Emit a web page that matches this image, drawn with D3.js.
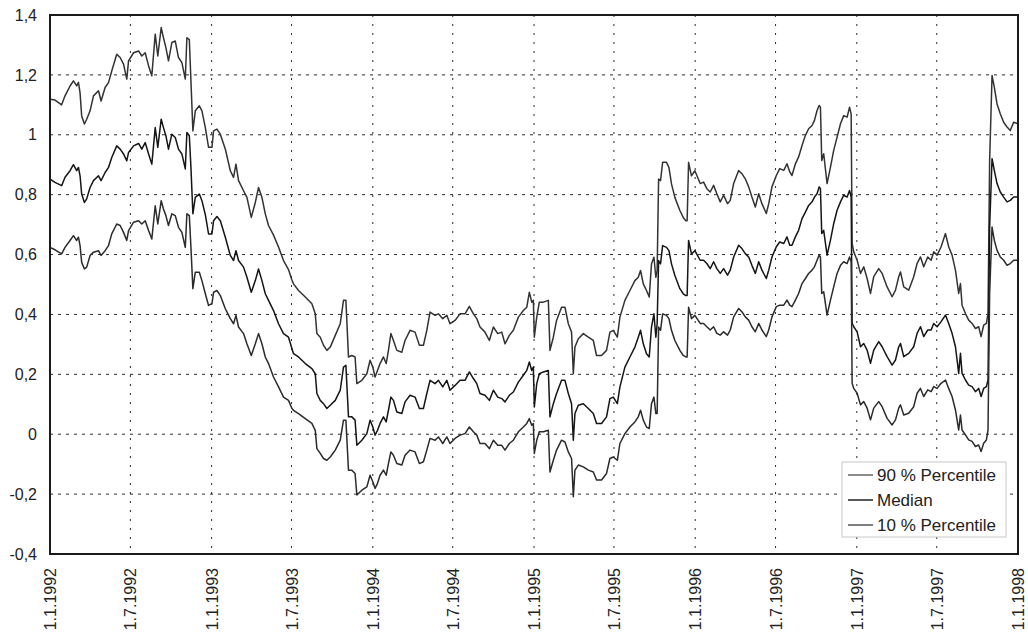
<!DOCTYPE html>
<html><head><meta charset="utf-8">
<script src="https://cdn.jsdelivr.net/npm/d3@7"></script>
<style>
body{margin:0;background:#fff}
text{font-family:"Liberation Sans",Arial,sans-serif;fill:#222}
</style>
</head><body>
<svg id="chart" width="1028" height="638"></svg>
<script>
// ---- data (decimal years) ----
const dates = [
1992.000,1992.031,1992.072,1992.093,1992.124,1992.145,1992.165,1992.176,1992.186,1992.196,
1992.213,1992.227,1992.248,1992.269,1992.300,1992.316,1992.341,1992.362,1992.382,1992.413,
1992.434,1992.455,1992.475,1992.486,1992.517,1992.548,1992.568,1992.589,1992.610,1992.630,
1992.651,1992.667,1992.688,1992.702,1992.717,1992.733,1992.754,1992.775,1992.795,1992.816,
1992.837,1992.847,1992.862,1992.872,1992.884,1992.899,1992.924,1992.940,1992.961,1992.981,
1993.002,1993.012,1993.033,1993.054,1993.085,1993.116,1993.136,1993.151,1993.167,1993.198,
1993.219,1993.246,1993.271,1993.291,1993.312,1993.333,1993.353,1993.384,1993.415,1993.446,
1993.477,1993.498,1993.508,1993.539,1993.581,1993.622,1993.643,1993.653,1993.674,1993.694,
1993.715,1993.736,1993.767,1993.798,1993.818,1993.833,1993.849,1993.870,1993.890,1993.901,
1993.932,1993.963,
1993.983,1994.000,1994.014,1994.029,1994.045,1994.066,1994.083,1994.097,1994.112,1994.128,
1994.149,1994.180,1994.200,1994.231,1994.262,1994.289,1994.314,1994.335,1994.355,1994.386,
1994.407,1994.434,1994.459,1994.479,1994.510,1994.541,1994.572,1994.599,1994.624,1994.645,
1994.665,1994.696,1994.723,1994.748,1994.775,1994.800,1994.820,1994.847,1994.872,1994.903,
1994.934,1994.955,1994.971,1994.986,1994.996,1995.002,1995.017,1995.033,1995.058,1995.089,
1995.099,1995.120,1995.140,1995.171,1995.192,1995.213,1995.233,1995.244,1995.254,1995.275,
1995.306,1995.337,1995.368,1995.388,1995.419,1995.450,1995.471,1995.492,1995.517,1995.533,
1995.564,1995.595,1995.626,1995.647,1995.661,1995.678,1995.698,1995.715,1995.729,1995.744,
1995.756,1995.764,1995.773,1995.785,1995.798,1995.822,1995.837,1995.853,1995.874,1995.905,
1995.926,1995.942,1995.950,1995.959,1995.977,1995.998,
1996.031,1996.052,1996.072,1996.093,1996.114,1996.134,1996.155,1996.176,1996.200,1996.217,
1996.238,1996.269,1996.289,1996.310,1996.331,1996.351,1996.372,1996.393,1996.413,1996.440,
1996.455,1996.475,1996.502,1996.523,1996.548,1996.568,1996.585,1996.599,1996.620,1996.640,
1996.661,1996.682,1996.702,1996.723,1996.738,1996.754,1996.767,1996.775,1996.783,1996.795,
1996.816,1996.837,1996.857,1996.878,1996.899,1996.919,1996.940,1996.955,1996.965,1996.971,
1996.981,1997.002,1997.023,1997.043,1997.064,1997.085,1997.105,1997.136,1997.157,1997.188,
1997.219,1997.240,1997.260,1997.271,1997.291,1997.322,1997.353,1997.374,1997.395,1997.415,
1997.440,1997.461,1997.477,1997.498,1997.523,1997.550,1997.570,1997.591,1997.612,1997.632,
1997.643,1997.653,1997.674,1997.694,1997.715,1997.736,1997.756,1997.771,1997.787,1997.804,
1997.814,1997.824,1997.839,1997.853,1997.870,1997.890,1997.911,1997.932,1997.952,1997.973,
1998.000
];

const p90 = [
1.119,1.116,1.100,1.130,1.163,1.180,1.163,1.175,1.140,1.063,
1.036,1.052,1.080,1.130,1.147,1.113,1.158,1.174,1.213,1.269,
1.258,1.236,1.186,1.247,1.274,1.280,1.263,1.274,1.230,1.197,
1.336,1.263,1.358,1.324,1.291,1.247,1.308,1.313,1.258,1.241,
1.186,1.324,1.318,1.180,1.013,1.080,1.097,1.080,1.024,0.958,
0.958,1.013,1.019,1.002,0.952,0.880,0.858,0.902,0.847,0.813,
0.791,0.724,0.774,0.824,0.791,0.736,0.697,0.665,0.625,0.580,
0.550,0.515,0.502,0.480,0.458,0.436,0.402,0.336,0.324,0.297,
0.280,0.291,0.330,0.369,0.447,0.447,0.258,0.263,0.258,0.169,
0.180,0.202,
0.247,0.224,0.191,0.213,0.236,0.258,0.236,0.280,0.336,0.313,
0.280,0.274,0.313,0.347,0.341,0.297,0.297,0.347,0.408,0.397,
0.402,0.386,0.397,0.369,0.380,0.402,0.402,0.427,0.402,0.386,
0.358,0.341,0.313,0.358,0.336,0.341,0.302,0.330,0.347,0.391,
0.413,0.424,0.474,0.441,0.447,0.324,0.391,0.441,0.441,0.447,
0.280,0.324,0.380,0.424,0.424,0.369,0.341,0.202,0.291,0.319,
0.336,0.324,0.313,0.263,0.263,0.280,0.341,0.347,0.324,0.391,
0.447,0.480,0.513,0.524,0.547,0.502,0.480,0.458,0.569,0.591,
0.524,0.547,0.852,0.847,0.908,0.908,0.891,0.836,0.791,0.747,
0.724,0.713,0.713,0.908,0.863,0.880,
0.837,0.842,0.820,0.809,0.831,0.803,0.776,0.798,0.770,0.781,
0.837,0.881,0.870,0.853,0.826,0.792,0.759,0.803,0.770,0.737,
0.770,0.826,0.864,0.887,0.881,0.903,0.876,0.864,0.903,0.926,
0.964,0.998,1.020,1.031,1.048,1.081,1.098,1.092,0.914,0.937,
0.837,0.892,0.948,0.992,1.037,1.064,1.059,1.092,1.070,0.637,
0.609,0.581,0.537,0.559,0.520,0.470,0.526,0.553,0.537,0.492,
0.459,0.481,0.526,0.542,0.492,0.481,0.526,0.570,0.592,0.559,
0.592,0.581,0.609,0.598,0.626,0.670,0.626,0.598,0.548,0.470,
0.503,0.431,0.403,0.381,0.370,0.353,0.359,0.326,0.364,0.370,
0.403,0.914,1.198,1.159,1.103,1.070,1.042,1.026,1.014,1.042,
1.037
];

const median = [
0.852,0.841,0.830,0.858,0.880,0.900,0.880,0.891,0.863,0.802,
0.774,0.786,0.824,0.847,0.863,0.847,0.874,0.891,0.924,0.963,
0.952,0.936,0.913,0.941,0.963,0.971,0.952,0.974,0.936,0.902,
1.024,0.958,1.052,1.024,0.997,0.952,1.002,0.991,0.952,0.936,
0.886,1.008,0.997,0.891,0.736,0.791,0.802,0.780,0.733,0.669,
0.669,0.713,0.727,0.713,0.658,0.597,0.580,0.613,0.580,0.558,
0.524,0.474,0.513,0.552,0.513,0.469,0.447,0.413,0.369,0.336,
0.324,0.286,0.269,0.258,0.236,0.219,0.202,0.136,0.113,0.102,
0.086,0.097,0.113,0.147,0.224,0.230,0.058,0.058,0.047,-0.037,
-0.020,0.002,
0.047,0.024,-0.003,0.013,0.036,0.058,0.041,0.080,0.124,0.113,
0.074,0.069,0.108,0.130,0.124,0.086,0.086,0.136,0.180,0.169,
0.180,0.158,0.180,0.147,0.163,0.180,0.180,0.208,0.186,0.169,
0.136,0.130,0.113,0.147,0.124,0.119,0.108,0.130,0.141,0.174,
0.197,0.213,0.241,0.213,0.224,0.091,0.169,0.202,0.208,0.213,
0.058,0.102,0.136,0.180,0.180,0.136,0.102,-0.020,0.069,0.097,
0.102,0.086,0.069,0.036,0.036,0.058,0.119,0.124,0.102,0.158,
0.224,0.258,0.291,0.324,0.347,0.302,0.269,0.258,0.358,0.402,
0.324,0.369,0.580,0.569,0.630,0.624,0.613,0.569,0.530,0.486,
0.469,0.463,0.463,0.647,0.602,0.613,
0.581,0.581,0.570,0.553,0.576,0.553,0.537,0.553,0.531,0.548,
0.592,0.631,0.620,0.603,0.592,0.564,0.537,0.576,0.548,0.520,
0.548,0.592,0.626,0.642,0.637,0.659,0.631,0.631,0.659,0.681,
0.720,0.742,0.764,0.776,0.792,0.803,0.826,0.820,0.670,0.681,
0.598,0.648,0.703,0.748,0.776,0.798,0.792,0.814,0.792,0.370,
0.359,0.342,0.292,0.303,0.281,0.237,0.281,0.309,0.292,0.259,
0.231,0.248,0.292,0.303,0.259,0.270,0.292,0.337,0.359,0.326,
0.348,0.348,0.370,0.359,0.376,0.398,0.370,0.337,0.292,0.203,
0.270,0.203,0.181,0.164,0.159,0.142,0.153,0.126,0.153,0.159,
0.181,0.692,0.920,0.881,0.837,0.809,0.792,0.776,0.781,0.792,
0.792
];

const p10 = [
0.624,0.616,0.602,0.624,0.647,0.663,0.647,0.658,0.630,0.574,
0.552,0.558,0.597,0.608,0.613,0.597,0.613,0.630,0.669,0.702,
0.697,0.674,0.647,0.680,0.708,0.713,0.702,0.713,0.680,0.652,
0.763,0.702,0.780,0.752,0.730,0.697,0.736,0.730,0.691,0.674,
0.624,0.736,0.730,0.624,0.486,0.541,0.541,0.513,0.469,0.430,
0.436,0.474,0.480,0.463,0.419,0.386,0.369,0.397,0.358,0.336,
0.302,0.263,0.302,0.336,0.302,0.258,0.236,0.191,0.158,0.124,
0.113,0.086,0.080,0.069,0.052,0.036,0.013,-0.048,-0.064,-0.081,
-0.087,-0.076,-0.053,-0.020,0.047,0.047,-0.120,-0.120,-0.131,-0.203,
-0.187,-0.176,
-0.137,-0.159,-0.181,-0.164,-0.137,-0.120,-0.137,-0.098,-0.059,-0.070,
-0.098,-0.103,-0.070,-0.053,-0.059,-0.098,-0.092,-0.053,-0.014,-0.020,
-0.009,-0.031,-0.009,-0.031,-0.014,-0.003,0.002,0.024,0.008,-0.003,
-0.031,-0.031,-0.048,-0.020,-0.037,-0.037,-0.053,-0.031,-0.020,0.008,
0.024,0.036,0.052,0.030,0.036,-0.064,-0.020,0.008,0.008,0.013,
-0.126,-0.087,-0.053,-0.020,-0.026,-0.059,-0.081,-0.209,-0.120,-0.103,
-0.109,-0.120,-0.126,-0.153,-0.153,-0.131,-0.081,-0.076,-0.087,-0.031,
0.002,0.024,0.041,0.058,0.080,0.047,0.024,0.019,0.102,0.124,
0.069,0.069,0.358,0.347,0.402,0.397,0.386,0.347,0.313,0.280,
0.263,0.258,0.258,0.424,0.386,0.397,
0.370,0.370,0.359,0.348,0.359,0.337,0.331,0.342,0.331,0.348,
0.392,0.420,0.409,0.392,0.381,0.359,0.342,0.370,0.348,0.326,
0.348,0.392,0.426,0.431,0.431,0.448,0.431,0.426,0.448,0.470,
0.503,0.520,0.537,0.548,0.559,0.581,0.598,0.592,0.470,0.476,
0.398,0.448,0.492,0.537,0.564,0.576,0.570,0.592,0.576,0.170,
0.153,0.137,0.098,0.109,0.087,0.048,0.087,0.109,0.092,0.053,
0.031,0.048,0.087,0.098,0.064,0.070,0.092,0.137,0.153,0.126,
0.148,0.142,0.159,0.153,0.170,0.181,0.153,0.126,0.081,0.014,
0.064,0.014,-0.002,-0.019,-0.024,-0.041,-0.036,-0.058,-0.030,-0.019,
0.014,0.470,0.692,0.648,0.614,0.592,0.581,0.564,0.570,0.581,
0.581
];

const yTicks = [-0.4,-0.2,0,0.2,0.4,0.6,0.8,1.0,1.2,1.4];
const xTickDates = ["1992-01-01","1992-07-01","1993-01-01","1993-07-01","1994-01-01","1994-07-01",
  "1995-01-01","1995-07-01","1996-01-01","1996-07-01","1997-01-01","1997-07-01","1998-01-01"];
const xTickLabels = ["1.1.1992","1.7.1992","1.1.1993","1.7.1993","1.1.1994","1.7.1994",
  "1.1.1995","1.7.1995","1.1.1996","1.7.1996","1.1.1997","1.7.1997","1.1.1998"];
const seriesNames = ["90 % Percentile","Median","10 % Percentile"];
const seriesColors = ["#333333","#151515","#2b2b2b"];
const legendColors = ["#666666","#222222","#555555"];

// ---- helpers ----
function yearToDate(v){
  const yr = Math.floor(v);
  const a = Date.UTC(yr,0,1), b = Date.UTC(yr+1,0,1);
  return new Date(a + (v - yr)*(b - a));
}
function parseDay(s){ const p = s.split("-").map(Number); return new Date(Date.UTC(p[0],p[1]-1,p[2])); }

const L = 50, R = 1018, T = 15, B = 554;
const x = d3.scaleUtc().domain([parseDay("1992-01-01"), parseDay("1998-01-01")]).range([L, R]);
const y = d3.scaleLinear().domain([-0.4, 1.4]).range([B, T]);

const svg = d3.select("#chart");
svg.append("rect").attr("width",1028).attr("height",638).attr("fill","#fff");

// gridlines
const grid = svg.append("g");
grid.selectAll("line.h").data(yTicks.filter(v => v > -0.4 && v < 1.4)).enter().append("line")
  .attr("x1", L).attr("x2", R).attr("y1", d => y(d)).attr("y2", d => y(d))
  .attr("stroke", "#2a2a2a").attr("stroke-width", 1).attr("stroke-dasharray", "3,5");
const tickDates = xTickDates.map(parseDay);
grid.selectAll("line.v").data(tickDates.slice(1, -1)).enter().append("line")
  .attr("x1", d => x(d)).attr("x2", d => x(d)).attr("y1", T).attr("y2", B)
  .attr("stroke", "#2a2a2a").attr("stroke-width", 1).attr("stroke-dasharray", "2,7");

// series
const series = [p90, median, p10];
const line = d3.line().x(d => x(d[0])).y(d => y(d[1]));
series.forEach((vals, i) => {
  const pts = dates.map((t, j) => [yearToDate(t), vals[j]]);
  svg.append("path").datum(pts).attr("d", line)
    .attr("fill", "none").attr("stroke", seriesColors[i]).attr("stroke-width", 1.5)
    .attr("stroke-linejoin", "round");
});

// frame
svg.append("rect").attr("x", L).attr("y", T).attr("width", R - L).attr("height", B - T)
  .attr("fill", "none").attr("stroke", "#1a1a1a").attr("stroke-width", 2);

// y axis
const fmt = v => String(+v.toFixed(1)).replace(".", ",");
const yAxis = svg.append("g").attr("transform", `translate(${L},0)`)
  .call(d3.axisLeft(y).tickValues(yTicks).tickFormat(fmt).tickSize(0).tickPadding(13));
yAxis.select(".domain").remove();
yAxis.selectAll("text").style("font-size", "16px").attr("fill", "#222");

// x axis
const xAxis = svg.append("g").attr("transform", `translate(0,${B})`)
  .call(d3.axisBottom(x).tickValues(tickDates).tickFormat((d, i) => xTickLabels[i]).tickSize(0));
xAxis.select(".domain").remove();
xAxis.selectAll("text")
  .attr("transform", "rotate(-90)").attr("x", -14).attr("y", 0).attr("dy", "0.35em")
  .style("text-anchor", "end").style("font-size", "16px").attr("fill", "#222");

// legend
const lg = svg.append("g").attr("transform", "translate(842,462)");
lg.append("rect").attr("width", 164).attr("height", 75).attr("fill", "#fff")
  .attr("stroke", "#c8c8c8").attr("stroke-width", 1);
seriesNames.forEach((n, i) => {
  const yy = 13 + i * 25;
  lg.append("line").attr("x1", 6).attr("x2", 31).attr("y1", yy).attr("y2", yy)
    .attr("stroke", legendColors[i]).attr("stroke-width", 1.5);
  lg.append("text").attr("x", 35).attr("y", yy).attr("dy", "0.35em")
    .style("font-size", "17px").text(n);
});
</script>
</body></html>
